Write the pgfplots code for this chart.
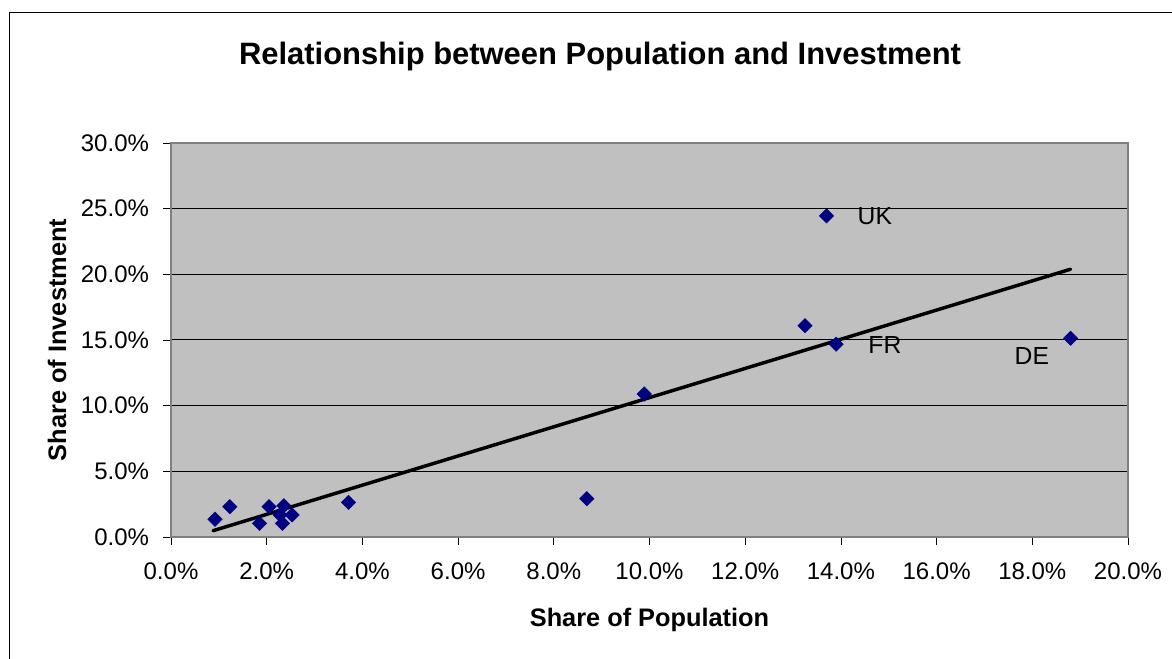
\documentclass[border=0pt]{standalone}
\usepackage{pgfplots}
\pgfplotsset{compat=1.18}
\usepackage{fontspec}
\setmainfont{Liberation Sans}
\definecolor{plotbg}{RGB}{192,192,192}
\definecolor{navy}{RGB}{0,0,128}
\definecolor{axgray}{RGB}{128,128,128}
\begin{document}
\begin{tikzpicture}
\path[use as bounding box] (-128.25pt,-91.5pt) rectangle (750.75pt,402.75pt);
\draw[black, line width=0.75pt] (-120.75pt,-100pt) -- (-120.75pt,393pt) -- (760pt,393pt);
\node[font=\fontsize{23.2}{26}\selectfont\bfseries] at (321.75pt,360pt) {Relationship between Population and Investment};
\begin{axis}[
  scale only axis,
  width=717.75pt, height=295.5pt,
  xmin=0, xmax=20, ymin=0, ymax=30,
  xtick={0,2,...,20}, ytick={0,5,...,30},
  axis background/.style={fill=plotbg},
  axis line style={axgray, line width=0.9pt},
  tick align=outside,
  major tick length=6pt,
  tick style={black, line width=0.6pt},
  xtick pos=bottom, ytick pos=left,
  ymajorgrids,
  major grid style={black, line width=0.75pt},
  /pgf/number format/assume math mode=true,
  xticklabel={\pgfmathprintnumber[fixed,fixed zerofill,precision=1]{\tick}\%},
  yticklabel={\pgfmathprintnumber[fixed,fixed zerofill,precision=1]{\tick}\%},
  ticklabel style={font=\fontsize{18}{20}\selectfont},
  xticklabel style={yshift=-10pt},
  yticklabel style={xshift=-7pt},
  xlabel={Share of Population},
  ylabel={Share of Investment},
  label style={font=\fontsize{19}{22}\selectfont\bfseries},
  xlabel style={at={(axis description cs:0.5,-0.2107)}, anchor=center},
  ylabel style={at={(axis description cs:-0.1191,0.5)}, anchor=center, rotate=0},
  clip=false,
]
\addplot[only marks, mark=square*, mark size=3.8pt, mark options={rotate=45, fill=navy, draw=navy}] coordinates {
(0.92,1.35) (1.23,2.31) (1.85,1.04) (2.05,2.31) (2.36,2.38) (2.28,1.68)
(2.33,1.04) (2.53,1.68) (3.71,2.64) (8.69,2.92) (9.89,10.89) (13.25,16.09)
(13.70,24.45) (13.90,14.68) (18.80,15.13)
};
\addplot[black, line width=2.6pt, line cap=round] coordinates {(0.88,0.48) (18.80,20.39)};
\node[font=\fontsize{18.5}{20}\selectfont] at (axis cs:14.71,24.45) {UK};
\node[font=\fontsize{18.5}{20}\selectfont] at (axis cs:14.92,14.62) {FR};
\node[font=\fontsize{18.5}{20}\selectfont] at (axis cs:17.99,13.78) {DE};
\end{axis}
\end{tikzpicture}
\end{document}
